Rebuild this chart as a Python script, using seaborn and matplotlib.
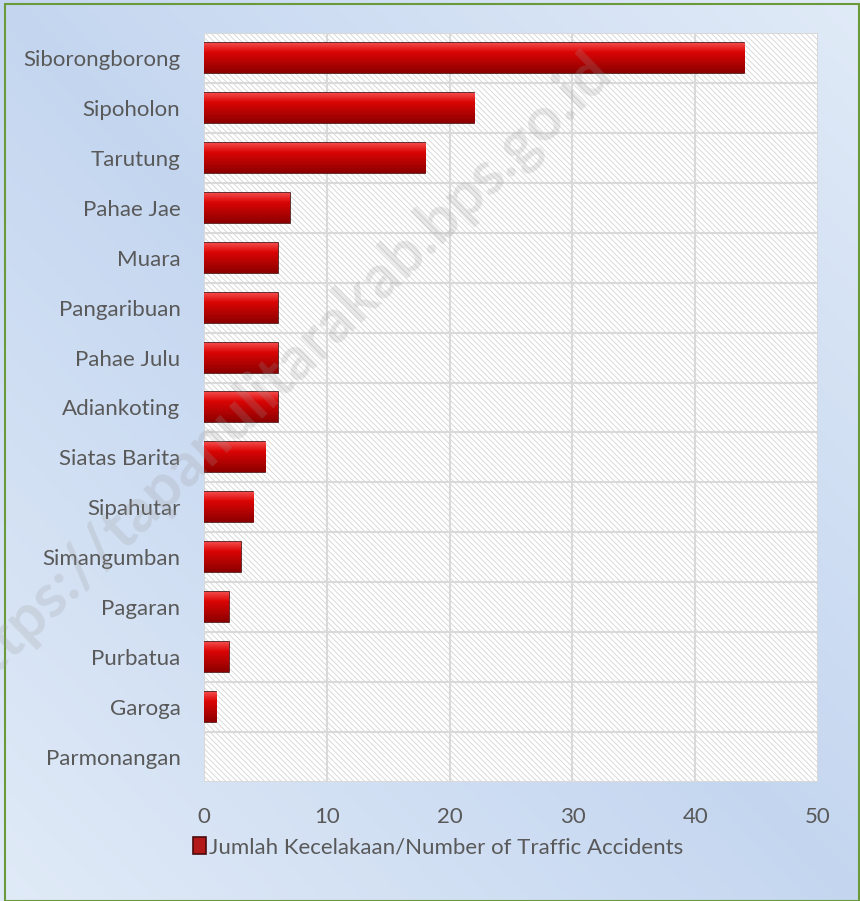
import numpy as np
import pandas as pd
import seaborn as sns
import matplotlib.pyplot as plt
from matplotlib.patches import Rectangle

kecamatan = ['Siborongborong', 'Sipoholon', 'Tarutung', 'Pahae Jae', 'Muara',
             'Pangaribuan', 'Pahae Julu', 'Adiankoting', 'Siatas Barita',
             'Sipahutar', 'Simangumban', 'Pagaran', 'Purbatua', 'Garoga',
             'Parmonangan']
kecelakaan = [44, 22, 18, 7, 6, 6, 6, 6, 5, 4, 3, 2, 2, 1, 0]
series_name = 'Jumlah Kecelakaan/Number of Traffic Accidents'
x_ticks = [0, 10, 20, 30, 40, 50]

df = pd.DataFrame({'kecamatan': kecamatan, 'jumlah': kecelakaan})

sns.set_style('white')
plt.rcParams['font.family'] = ['Lato', 'DejaVu Sans']

fig = plt.figure(figsize=(8.6, 9.01), dpi=100)

# blue gradient background + green frame
bg = fig.add_axes([0, 0, 1, 1], zorder=-10)
gx, gy = np.meshgrid(np.linspace(0, 1, 200), np.linspace(0, 1, 200))
g = 0.5 * gx + 0.5 * (1 - gy)
g = 1 - np.abs(g - 0.5) * 2
c1 = np.array([0.88, 0.92, 0.97])
c2 = np.array([0.77, 0.84, 0.94])
img = c1[None, None, :] * (1 - g[..., None]) + c2[None, None, :] * g[..., None]
bg.imshow(img, extent=[0, 1, 0, 1], aspect='auto', origin='upper')
bg.set_axis_off()
fig.patches.append(Rectangle((0.006, 0.0), 0.993, 0.996, transform=fig.transFigure,
                             fill=False, edgecolor='#6a9a3a', linewidth=1.5))

ax = fig.add_axes([0.2372, 0.1321, 0.714, 0.8313])
ax.set_facecolor('white')
plt.rcParams['hatch.linewidth'] = 0.6
ax.add_patch(Rectangle((0, 0), 1, 1, transform=ax.transAxes, facecolor='white',
                       edgecolor='#d4d4d4', hatch='\\\\\\\\\\\\', linewidth=0, zorder=0))

sns.barplot(data=df, y='kecamatan', x='jumlah', orient='h', color='#cc0000',
            width=0.6, edgecolor='#4a0a0a', linewidth=1.2, ax=ax, zorder=3,
            label=series_name)

# bevel shading on each bar
shade = np.linspace(0, 1, 50)
red_top = np.array([0.95, 0.28, 0.28])
red_mid = np.array([0.86, 0.02, 0.02])
red_bot = np.array([0.55, 0.0, 0.0])
cols = np.where(shade[:, None] < 0.3,
                red_top + (red_mid - red_top) * (shade[:, None] / 0.3),
                red_mid + (red_bot - red_mid) * ((shade[:, None] - 0.3) / 0.7))
for p in ax.patches[1:]:
    x0, y0 = p.get_x(), p.get_y()
    w, h = p.get_width(), p.get_height()
    if w <= 0:
        p.set_linewidth(0)
        continue
    im = ax.imshow(cols[:, None, :], extent=[x0, x0 + w, y0 + h, y0],
                   aspect='auto', zorder=3.5, interpolation='bilinear')
    im.set_clip_path(p)

ax.set_xlim(0, 50)
ax.set_ylim(len(kecamatan) - 0.5, -0.5)
ax.set_xticks(x_ticks)
ax.set_yticks(np.arange(-0.5, len(kecamatan), 1), minor=True)
ax.grid(True, axis='x', color='#d9d9d9', linewidth=1.5, zorder=1)
ax.grid(True, axis='y', which='minor', color='#d9d9d9', linewidth=1.5, zorder=1)
ax.set_axisbelow(True)
ax.tick_params(axis='y', which='minor', length=7, color='#d9d9d9', width=1.5)
ax.tick_params(axis='y', which='major', length=0, pad=17, labelsize=16, labelcolor='#595959')
ax.tick_params(axis='x', length=0, pad=18, labelsize=16, labelcolor='#595959')
for s in ax.spines.values():
    s.set_visible(False)
ax.set_xlabel('')
ax.set_ylabel('')

leg = ax.legend(loc='center', bbox_to_anchor=(0.381, -0.087), frameon=False,
                fontsize=16, handlelength=0.6, handleheight=0.8, handletextpad=0.1,
                labelcolor='#595959')

# faint watermark over everything
fig.text(0.325, 0.585, 'https://tapanulitarakab.bps.go.id', rotation=44, fontsize=44,
         color='#9a9a9a', alpha=0.22, ha='center', va='center', fontweight='bold', zorder=20)

fig.savefig('out.png', dpi=100)
